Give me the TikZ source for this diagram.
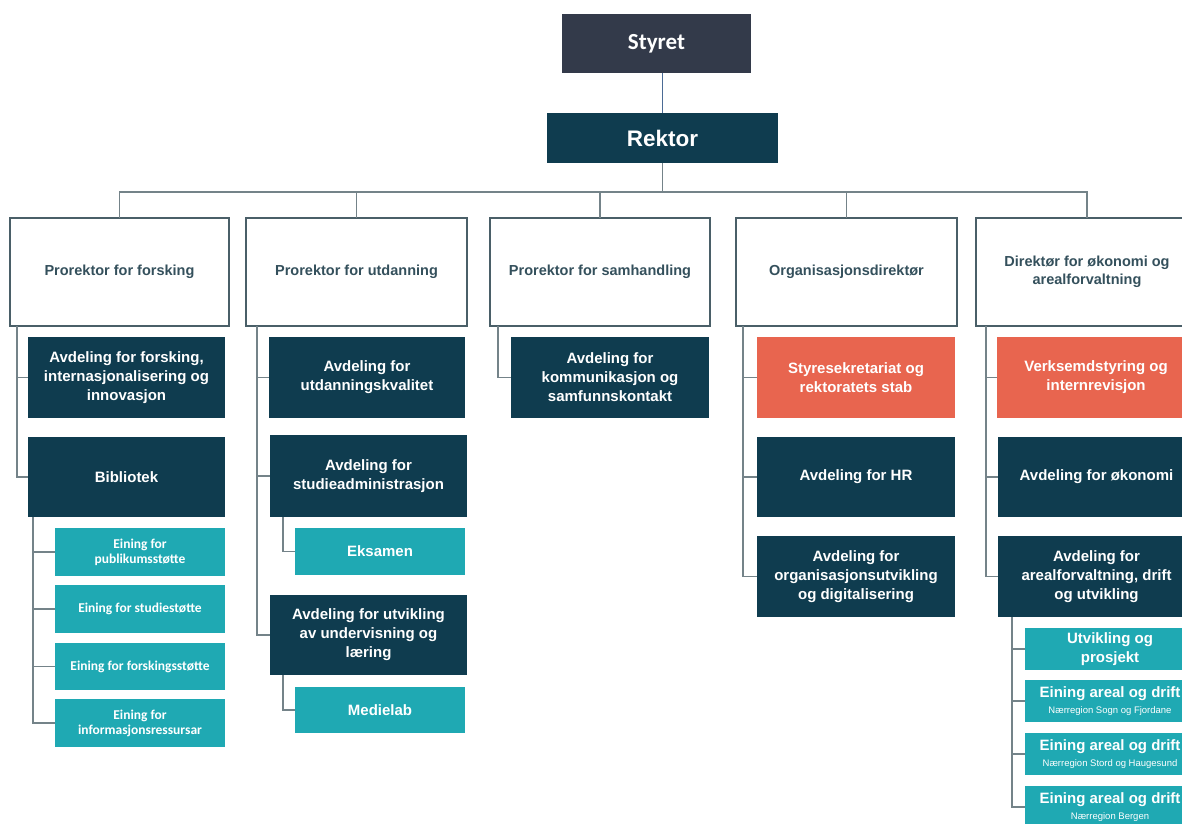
\documentclass[tikz,border=0pt]{standalone}
\usepackage{fontspec}
\setmainfont{Liberation Sans}
\newfontfamily\carl{Carlito}
\definecolor{dkteal}{HTML}{0F3C4F}
\definecolor{styretc}{HTML}{333A4A}
\definecolor{tealc}{HTML}{1FA9B3}
\definecolor{coralc}{HTML}{E8654F}
\definecolor{hdrline}{HTML}{4A5F68}
\definecolor{hdrtext}{HTML}{34505C}
\definecolor{connc}{HTML}{748389}
\definecolor{bluec}{HTML}{4B6B95}
\tikzset{
  base/.style={inner sep=2pt, outer sep=0pt, align=center},
  hdr/.style={base, draw=hdrline, line width=1.3pt, fill=white, text=hdrtext, font=\bfseries\fontsize{14.5}{17.5}\selectfont},
  dbox/.style={base, fill=dkteal, text=white, font=\bfseries\fontsize{15}{19}\selectfont},
  cbox/.style={base, fill=coralc, text=white, font=\bfseries\fontsize{15}{19}\selectfont},
  tbox/.style={base, fill=tealc, text=white, font=\carl\bfseries\fontsize{13.5}{15}\selectfont},
  ebox/.style={base, fill=tealc, text=white, font=\bfseries\fontsize{15}{19}\selectfont},
  topbox/.style={base, fill=styretc, text=white, font=\carl\bfseries\fontsize{23}{26}\selectfont},
  rekbox/.style={base, fill=dkteal, text=white, font=\bfseries\fontsize{22.5}{26}\selectfont},
  conn/.style={draw=connc, line width=1.5pt},
}
\newcommand\bx[7]{\node[#6, minimum width={(#4-#2)*1pt}, minimum height={(#5-#3)*1pt}] (#1) at ({(#2+#4)/2},{(#3+#5)/2}) {#7};}
\newcommand\areal[1]{{\fontsize{15}{15}\selectfont Eining areal og drift}\\[-3pt]{\mdseries\fontsize{9.5}{10}\selectfont #1}}
\begin{document}
\begin{tikzpicture}[x=1pt,y=-1pt]
\useasboundingbox (0,0) rectangle (1182,823);
\clip (0,0) rectangle (1182,823);
\fill[white] (0,0) rectangle (1182,823);
% top
\bx{styret}{562}{14}{751}{73}{topbox}{Styret}
\bx{rektor}{547}{113}{778}{163}{rekbox}{Rektor}
% level 1
\bx{p1}{10}{218}{229}{326}{hdr}{Prorektor for forsking}
\bx{p2}{246}{218}{467}{326}{hdr}{Prorektor for utdanning}
\bx{p3}{490}{218}{710}{326}{hdr}{Prorektor for samhandling}
\bx{p4}{736}{218}{957}{326}{hdr}{Organisasjonsdirektør}
\bx{p5}{976}{218}{1198}{326}{hdr}{Direktør for økonomi og\\arealforvaltning}
% column 1
\bx{a11}{28}{337}{225}{418}{dbox}{Avdeling for forsking,\\internasjonalisering og\\innovasjon}
\bx{bib}{28}{437}{225}{517}{dbox}{Bibliotek}
\bx{t11}{55}{528}{225}{576}{tbox}{Eining for\\publikumsstøtte}
\bx{t12}{55}{585}{225}{633}{tbox}{Eining for studiestøtte}
\bx{t13}{55}{643}{225}{690}{tbox}{Eining for forskingsstøtte}
\bx{t14}{55}{699}{225}{747}{tbox}{Eining for\\informasjonsressursar}
% column 2
\bx{a21}{269}{337}{465}{418}{dbox}{Avdeling for\\utdanningskvalitet}
\bx{a22}{270}{435}{467}{517}{dbox}{Avdeling for\\studieadministrasjon}
\bx{eks}{295}{528}{465}{575}{ebox}{Eksamen}
\bx{a23}{270}{595}{467}{675}{dbox}{Avdeling for utvikling\\av undervisning og\\læring}
\bx{med}{295}{687}{465}{733}{ebox}{Medielab}
% column 3
\bx{a31}{511}{337}{709}{418}{dbox}{Avdeling for\\kommunikasjon og\\samfunnskontakt}
% column 4
\bx{a41}{757}{337}{955}{418}{cbox}{Styresekretariat og\\rektoratets stab}
\bx{a42}{757}{437}{955}{517}{dbox}{Avdeling for HR}
\bx{a43}{757}{536}{955}{617}{dbox}{Avdeling for\\organisasjonsutvikling\\og digitalisering}
% column 5
\bx{a51}{997}{337}{1195}{418}{cbox}{Verksemdstyring og\\internrevisjon}
\bx{a52}{998}{437}{1195}{517}{dbox}{Avdeling for økonomi}
\bx{a53}{998}{536}{1195}{617}{dbox}{Avdeling for\\arealforvaltning, drift\\og utvikling}
\bx{t51}{1025}{628}{1195}{670}{ebox}{Utvikling og\\prosjekt}
\bx{t52}{1025}{680}{1195}{722}{ebox}{\areal{Nærregion Sogn og Fjordane}}
\bx{t53}{1025}{733}{1195}{775}{ebox}{\areal{Nærregion Stord og Haugesund}}
\bx{t54}{1025}{786}{1195}{828}{ebox}{\areal{Nærregion Bergen}}
% connectors
\draw[draw=bluec,line width=1pt] (rektor.north) -- (rektor.north |- styret.south);
\coordinate (bus) at (664,192);
\draw[conn] (rektor.south) -- (rektor.south |- bus);
\draw[conn] (p1.north) -- (p1.north |- bus) -- (p5.north |- bus) -- (p5.north);
\foreach \p in {p2,p3,p4} \draw[conn] (\p.north) -- (\p.north |- bus);
% col 1
\coordinate (c1) at ([xshift=7pt]p1.south west);
\foreach \c in {a11,bib} \draw[conn] (c1) |- (\c.west);
\coordinate (cb) at ([xshift=5pt]bib.south west);
\foreach \c in {t11,t12,t13,t14} \draw[conn] (cb) |- (\c.west);
% col 2
\coordinate (c2) at ([xshift=11pt]p2.south west);
\foreach \c in {a21,a22,a23} \draw[conn] (c2) |- (\c.west);
\draw[conn] ([xshift=13pt]a22.south west) |- (eks.west);
\draw[conn] ([xshift=13pt]a23.south west) |- (med.west);
% col 3
\draw[conn] ([xshift=8pt]p3.south west) |- (a31.west);
% col 4
\coordinate (c4) at ([xshift=7pt]p4.south west);
\foreach \c in {a41,a42,a43} \draw[conn] (c4) |- (\c.west);
% col 5
\coordinate (c5) at ([xshift=10pt]p5.south west);
\foreach \c in {a51,a52,a53} \draw[conn] (c5) |- (\c.west);
\coordinate (c53) at ([xshift=14pt]a53.south west);
\foreach \c in {t51,t52,t53,t54} \draw[conn] (c53) |- (\c.west);
\end{tikzpicture}
\end{document}
